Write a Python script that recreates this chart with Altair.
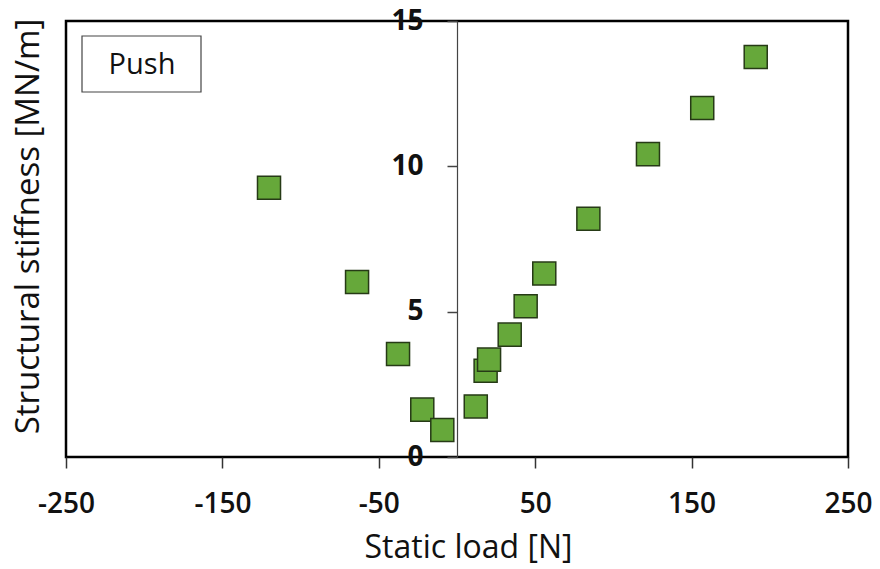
import altair as alt
import pandas as pd

# Static load [N] and structural stiffness [MN/m] for the push direction
load_n = [-120.2, -63.9, -37.7, -22.2, -9.4, 12.0, 18.3, 20.5, 33.7, 43.9, 55.8, 84.0, 122.1, 156.8, 191.0]
stiffness_mn_m = [9.26, 6.02, 3.54, 1.63, 0.93, 1.74, 2.97, 3.35, 4.21, 5.19, 6.31, 8.20, 10.42, 12.01, 13.76]

x_ticks = [-250, -150, -50, 50, 150, 250]
y_ticks = [0, 5, 10, 15]
panel_label = ["Push"]

df = pd.DataFrame({"load": load_n, "stiffness": stiffness_mn_m})
label_df = pd.DataFrame({"label": panel_label})

FONT = "Open Sans"
W, H = 782, 436

x_scale = alt.Scale(domain=[-250, 250], nice=False, zero=False)
y_scale = alt.Scale(domain=[0, 15], nice=False)

points = alt.Chart(df).mark_square(
    size=530, fill="#66a83a", stroke="#263a16", strokeWidth=1.5, opacity=1
).encode(
    x=alt.X(
        "load:Q",
        scale=x_scale,
        axis=alt.Axis(
            values=x_ticks,
            labelExpr="'' + datum.value",
            title="Static load [N]",
            domain=False,
            grid=False,
            ticks=True,
            tickSize=11,
            tickWidth=1.5,
            tickColor="#333333",
            labelFont=FONT,
            labelFontSize=28,
            labelFontWeight=600,
            labelColor="#111111",
            labelPadding=22,
            labelFlush=False,
            titleFont=FONT,
            titleFontSize=32,
            titleFontWeight=500,
            titleColor="#111111",
            titleX=402,
            titleY=100,
            titleBaseline="alphabetic",
            titleAlign="center",
        ),
    ),
    y=alt.Y(
        "stiffness:Q",
        scale=y_scale,
        axis=alt.Axis(
            values=y_ticks,
            title="Structural stiffness [MN/m]",
            offset=-391,
            grid=False,
            domain=True,
            domainColor="#444444",
            domainWidth=1.2,
            tickSize=10,
            tickWidth=1.5,
            tickColor="#444444",
            labelFont=FONT,
            labelFontSize=28,
            labelFontWeight="bold",
            labelColor="#111111",
            labelPadding=24,
            labelFlush=False,
            labelBaseline="middle",
            titleFont=FONT,
            titleFontSize=33,
            titleFontWeight=500,
            titleColor="#111111",
            titleAngle=-90,
            titleX=-429,
            titleY=205,
            titleAlign="center",
            titleBaseline="middle",
        ),
    ),
)

# Panel label box in the upper-left corner
label_box = alt.Chart(label_df).mark_rect(
    fill="white", stroke="#444444", strokeWidth=1.2
).encode(
    x=alt.value(16), x2=alt.value(135), y=alt.value(15), y2=alt.value(71)
)

label_text = alt.Chart(label_df).mark_text(
    font=FONT, fontSize=29, color="#111111", align="center", baseline="middle"
).encode(
    x=alt.value(76), y=alt.value(44), text="label:N"
)

chart = alt.layer(label_box, label_text, points).properties(
    width=W,
    height=H,
    autosize=alt.AutoSizeParams(type="none"),
    padding={"left": 66, "top": 21, "right": 32, "bottom": 112},
    background="white",
).configure_view(
    stroke="#000000", strokeWidth=2.5
)

chart.save("out.html", embed_options={"renderer": "svg", "actions": False})
